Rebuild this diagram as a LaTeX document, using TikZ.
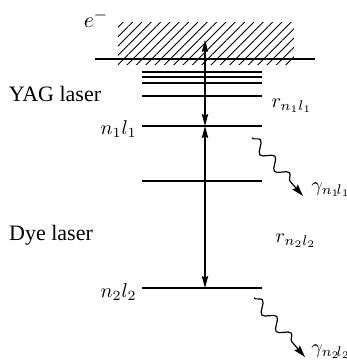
\documentclass[tikz,border=0pt]{standalone}
\usepackage{fontspec}
\setmainfont{Liberation Serif}
\usepackage{tikz}
\usetikzlibrary{arrows.meta, patterns.meta, decorations.pathmorphing, calc}

\begin{document}
\begin{tikzpicture}[
  x=0.5pt, y=-0.5pt,
  level/.style={line width=0.6pt},
  laser/.style={{Stealth[length=6pt,width=3.2pt,inset=0.8pt]}-{Stealth[length=6pt,width=3.2pt,inset=0.8pt]}, line width=0.6pt},
  photon/.style={-{Stealth[length=6pt,width=3.6pt,inset=0.8pt]}, line width=0.6pt, decorate,
                 decoration={snake, amplitude=2.6pt, segment length=11pt, post length=6pt}},
  lbl/.style={font=\fontsize{11}{13}\selectfont, inner sep=1pt},
  mlbl/.style={font=\fontsize{10}{12}\selectfont, inner sep=0.5pt}
]
  \useasboundingbox (0,0) rectangle (347,360);
  % 电离区
  \fill[pattern={Lines[angle=45,distance=3.3pt,line width=0.45pt]}] (118,22) rectangle (294,64);
  \draw[level] (95,59) -- (315,59);
  % 能级
  \foreach \y in {72,77,83,96,181} {
    \draw[level] (142,\y) -- (262,\y);
  }
  \draw[level] (142,126) coordinate (n1w) -- (262,126) coordinate (n1e);
  \draw[level] (142,288) coordinate (n2w) -- (262,288) coordinate (n2e);
  % 跃迁点
  \coordinate (ion) at (205,40);
  \coordinate (n1) at (205,126);
  \coordinate (n2) at (205,288);
  \coordinate (g1s) at (252,138);
  \coordinate (g1e) at (303,196);
  \coordinate (g2s) at (254,298);
  \coordinate (g2e) at (305,357);
  % 标签
  \node[lbl] (elec) at (96,19) {$e^-$};
  \node[lbl] (yag) at (55,94) {YAG laser};
  \node[lbl] (dye) at (51,235) {Dye laser};
  \node[mlbl, anchor=east] (lab1) at (138,129) {$n_1l_1$};
  \node[mlbl, anchor=east] (lab2) at (138,292) {$n_2l_2$};
  \node[mlbl] (r1) at (292,106) {$r_{n_1l_1}$};
  \node[mlbl] (r2) at (296,241) {$r_{n_2l_2}$};
  \node[mlbl, anchor=west] (gam1) at (310,190) {$\gamma_{n_1\!l_1}$};
  \node[mlbl, anchor=west] (gam2) at (310,352) {$\gamma_{n_2\!l_2}$};
  % 箭头
  \draw[laser] (n1) -- (ion);
  \draw[laser] (n2) -- (n1);
  \draw[photon] (g1s) -- (g1e);
  \draw[photon] (g2s) -- (g2e);
\end{tikzpicture}
\end{document}
